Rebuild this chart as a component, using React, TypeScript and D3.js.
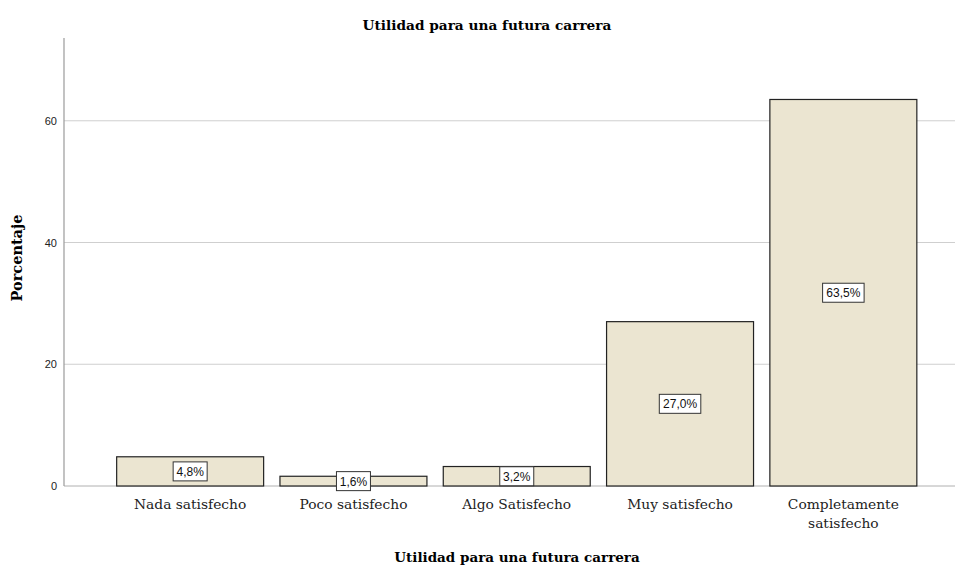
import React from "react";
import * as d3 from "d3";

const categories: string[][] = [
  ["Nada satisfecho"],
  ["Poco satisfecho"],
  ["Algo Satisfecho"],
  ["Muy satisfecho"],
  ["Completamente", "satisfecho"],
];
const values: number[] = [4.8, 1.6, 3.2, 27.0, 63.5];
const valueLabels: string[] = ["4,8%", "1,6%", "3,2%", "27,0%", "63,5%"];
const yTicks: number[] = [0, 20, 40, 60];
const title = "Utilidad para una futura carrera";
const xTitle = "Utilidad para una futura carrera";
const yTitle = "Porcentaje";

const W = 955;
const H = 566;
const serif = "'DejaVu Serif', 'Liberation Serif', serif";
const sans = "'Liberation Sans', Arial, sans-serif";

export default function App() {
  const x = d3
    .scaleBand<number>()
    .domain(values.map((_, i) => i))
    .range([108.5, 925])
    .paddingInner(0.1)
    .paddingOuter(0.05);
  const y = d3.scaleLinear().domain([0, 73.6]).range([486, 38]);
  const axisX = 64;

  return (
    <svg
      width={W}
      height={H}
      style={{ position: "absolute", left: 0, top: 0, background: "#fff" }}
    >
      <text
        x={487}
        y={30}
        textAnchor="middle"
        fontFamily={serif}
        fontWeight="bold"
        fontSize={13.7}
        fill="#000"
      >
        {title}
      </text>
      {yTicks
        .filter((t) => t > 0)
        .map((t) => (
          <line
            key={"g" + t}
            x1={axisX}
            x2={W}
            y1={y(t)}
            y2={y(t)}
            stroke="#cfcfcf"
            strokeWidth={1}
          />
        ))}
      <line x1={axisX} x2={W} y1={y(0)} y2={y(0)} stroke="#b0b0b0" strokeWidth={1} />
      <line x1={axisX} x2={axisX} y1={y(73.6)} y2={y(0)} stroke="#9a9a9a" strokeWidth={1.2} />
      {yTicks.map((t) => (
        <text
          key={"t" + t}
          x={57}
          y={y(t) + 4}
          textAnchor="end"
          fontFamily={sans}
          fontSize={11}
          fill="#222"
        >
          {t}
        </text>
      ))}
      {values.map((v, i) => {
        const bx = x(i)!;
        const bw = x.bandwidth();
        const top = y(v);
        const cy = (top + y(0)) / 2;
        const lbl = valueLabels[i];
        const tw = lbl.length * 7.5 + 4;
        return (
          <g key={"b" + i}>
            <rect
              x={bx}
              y={top}
              width={bw}
              height={y(0) - top}
              fill="#EBE5D1"
              stroke="#222"
              strokeWidth={1.2}
            />
            <rect
              x={bx + bw / 2 - tw / 2}
              y={cy - 9.5}
              width={tw}
              height={19}
              fill="#fff"
              stroke="#333"
              strokeWidth={1}
            />
            <text
              x={bx + bw / 2}
              y={cy + 4.5}
              textAnchor="middle"
              fontFamily={sans}
              fontSize={12}
              fill="#111"
            >
              {lbl}
            </text>
            {categories[i].map((line, j) => (
              <text
                key={j}
                x={bx + bw / 2}
                y={509 + j * 19}
                textAnchor="middle"
                fontFamily={serif}
                fontSize={13.8}
                fill="#222"
              >
                {line}
              </text>
            ))}
          </g>
        );
      })}
      <text
        x={517}
        y={562}
        textAnchor="middle"
        fontFamily={serif}
        fontWeight="bold"
        fontSize={13.5}
        fill="#000"
      >
        {xTitle}
      </text>
      <text
        transform={`translate(22, 258) rotate(-90)`}
        textAnchor="middle"
        fontFamily={serif}
        fontWeight="bold"
        fontSize={14.5}
        fill="#000"
      >
        {yTitle}
      </text>
    </svg>
  );
}
